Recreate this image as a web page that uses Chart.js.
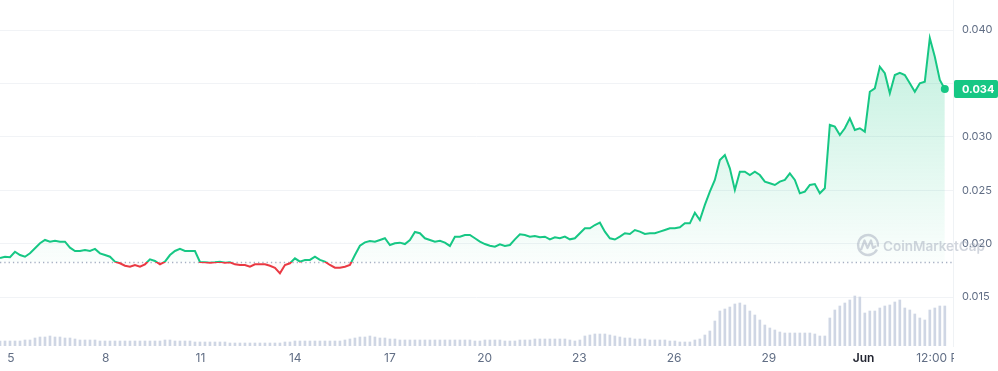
<!DOCTYPE html>
<html>
<head>
<meta charset="utf-8">
<script src="https://cdn.jsdelivr.net/npm/chart.js@4.4.1/dist/chart.umd.min.js"></script>
<style>
  html, body { margin: 0; padding: 0; background: #fff; }
</style>
</head>
<body>
<canvas id="priceChart" width="998" height="371"></canvas>
<script>
// Price (USD) sampled roughly every 3.8 hours, May 4 -> Jun 3
const priceValues = [
  0.01865, 0.01877, 0.01872, 0.01924, 0.01893, 0.01877, 0.01909, 0.01956, 0.02003, 0.02034,
  0.02018, 0.02027, 0.02018, 0.02018, 0.01962, 0.01931, 0.01931, 0.01940, 0.01931, 0.01950,
  0.01909, 0.01893, 0.01877, 0.01831, 0.01816, 0.01793, 0.01784, 0.01800, 0.01784, 0.01806,
  0.01853, 0.01837, 0.01806, 0.01831, 0.01893, 0.01931, 0.01950, 0.01931, 0.01931, 0.01931,
  0.01828, 0.01825, 0.01821, 0.01825, 0.01831, 0.01821, 0.01825, 0.01806, 0.01800, 0.01800,
  0.01784, 0.01806, 0.01806, 0.01806, 0.01793, 0.01774, 0.01722, 0.01800, 0.01816, 0.01862,
  0.01831, 0.01847, 0.01847, 0.01877, 0.01847, 0.01831, 0.01800, 0.01774, 0.01774, 0.01784,
  0.01800, 0.01893, 0.01980, 0.02012, 0.02024, 0.02018, 0.02034, 0.02050, 0.01987, 0.02003,
  0.02009, 0.01996, 0.02034, 0.02109, 0.02097, 0.02050, 0.02034, 0.02018, 0.02027, 0.02009,
  0.01978, 0.02065, 0.02065, 0.02081, 0.02081, 0.02050, 0.02018, 0.01996, 0.01980, 0.01971,
  0.01994, 0.01978, 0.01987, 0.02040, 0.02087, 0.02081, 0.02065, 0.02071, 0.02059, 0.02065,
  0.02040, 0.02059, 0.02050, 0.02065, 0.02040, 0.02050, 0.02097, 0.02143, 0.02143, 0.02174,
  0.02196, 0.02112, 0.02050, 0.02038, 0.02065, 0.02097, 0.02090, 0.02127, 0.02112, 0.02090,
  0.02097, 0.02097, 0.02112, 0.02127, 0.02143, 0.02143, 0.02153, 0.02190, 0.02190, 0.02289,
  0.02221, 0.02362, 0.02486, 0.02596, 0.02783, 0.02830, 0.02705, 0.02502, 0.02673, 0.02673,
  0.02642, 0.02673, 0.02642, 0.02580, 0.02565, 0.02549, 0.02580, 0.02596, 0.02658, 0.02596,
  0.02471, 0.02486, 0.02549, 0.02558, 0.02471, 0.02518, 0.03111, 0.03095, 0.03017, 0.03080,
  0.03173, 0.03064, 0.03080, 0.03048, 0.03422, 0.03454, 0.03656, 0.03595, 0.03407, 0.03579,
  0.03600, 0.03579, 0.03501, 0.03422, 0.03501, 0.03516, 0.03925, 0.03750, 0.03532, 0.03448
];

// Traded volume (millions), same sampling
const volumeValues = [
  5, 5, 5, 5, 5, 6, 6, 8, 9, 9,
  10, 9, 9, 8, 8, 7, 6, 6, 6, 6,
  5, 5, 5, 5, 5, 5, 5, 5, 5, 5,
  5, 5, 5, 6, 6, 5, 5, 5, 5, 4,
  4, 4, 4, 4, 4, 4, 3, 3, 3, 3,
  3, 3, 3, 3, 3, 3, 3, 4, 4, 5,
  5, 5, 5, 5, 5, 5, 5, 5, 5, 6,
  7, 8, 9, 9, 10, 9, 8, 8, 7, 7,
  6, 6, 6, 6, 6, 6, 6, 6, 6, 6,
  6, 6, 6, 6, 6, 5, 5, 6, 6, 6,
  6, 5, 5, 5, 6, 6, 6, 7, 7, 7,
  7, 7, 7, 7, 6, 5, 6, 10, 11, 12,
  12, 12, 11, 10, 9, 8, 8, 7, 7, 7,
  6, 6, 6, 6, 5, 5, 4, 4, 4, 6,
  7, 11, 15, 25, 35, 37, 39, 42, 43, 41,
  35, 31, 26, 21, 18, 16, 14, 13, 13, 13,
  13, 13, 13, 12, 10, 10, 28, 36, 40, 43,
  46, 50, 49, 33, 35, 35, 38, 40, 41, 44,
  46, 38, 36, 32, 28, 26, 36, 38, 40, 40
];

const basePrice = 0.01828;       // opening price of the period
const firstDay = 4.652;          // day of May of the first sample
const dayStep = 0.1583;          // days between samples
const tickDays = [5, 8, 11, 14, 17, 20, 23, 26, 29, 32, 34.5];
const tickLabels = ['5', '8', '11', '14', '17', '20', '23', '26', '29', 'Jun', '12:00 PM'];
const priceTicks = [0.015, 0.020, 0.025, 0.030, 0.035, 0.040];

const green = '#16c784';
const red = '#ea3943';

const pricePoints = priceValues.map((v, i) => ({ x: firstDay + i * dayStep, y: v }));
const volumePoints = volumeValues.map((v, i) => ({ x: firstDay + i * dayStep, y: v }));
const lastIndex = priceValues.length - 1;
const lastPrice = priceValues[lastIndex];

// green above the opening price, red below
function lineColor(context) {
  const { chart } = context;
  const { ctx, chartArea, scales } = chart;
  if (!chartArea) return green;
  const r = (scales.y.getPixelForValue(basePrice) - chartArea.top) / (chartArea.bottom - chartArea.top);
  const g = ctx.createLinearGradient(0, chartArea.top, 0, chartArea.bottom);
  g.addColorStop(0, green);
  g.addColorStop(r, green);
  g.addColorStop(r, red);
  g.addColorStop(1, red);
  return g;
}

function areaColor(context) {
  const { chart } = context;
  const { ctx, chartArea, scales } = chart;
  if (!chartArea) return 'rgba(22,199,132,0.1)';
  const r = (scales.y.getPixelForValue(basePrice) - chartArea.top) / (chartArea.bottom - chartArea.top);
  const g = ctx.createLinearGradient(0, chartArea.top, 0, chartArea.bottom);
  g.addColorStop(0, 'rgba(22,199,132,0.30)');
  g.addColorStop(r, 'rgba(22,199,132,0.02)');
  g.addColorStop(r, 'rgba(234,57,67,0.02)');
  g.addColorStop(Math.min(1, r + 0.2), 'rgba(234,57,67,0.25)');
  g.addColorStop(1, 'rgba(234,57,67,0.25)');
  return g;
}

// drop the automatic padding Chart.js adds for overhanging labels
function noPadding(s) {
  s.paddingLeft = 0;
  s.paddingRight = 0;
  s.paddingTop = 0;
  s.paddingBottom = 0;
}

const extras = {
  id: 'extras',
  beforeDatasetsDraw(chart) {
    // dotted line at the opening price
    const { ctx, chartArea, scales } = chart;
    const y = Math.round(scales.y.getPixelForValue(basePrice)) + 0.5;
    ctx.save();
    ctx.strokeStyle = '#a6b0c3';
    ctx.lineWidth = 1.3;
    ctx.setLineDash([1.3, 3]);
    ctx.beginPath();
    ctx.moveTo(chartArea.left, y);
    ctx.lineTo(chartArea.right, y);
    ctx.stroke();
    ctx.restore();
  },
  afterDraw(chart) {
    const { ctx, chartArea, scales, width, height } = chart;
    ctx.save();
    // the last time label is cut by the price axis
    ctx.fillStyle = '#fff';
    ctx.fillRect(chartArea.right + 1, chartArea.bottom + 1, width - chartArea.right, height - chartArea.bottom);

    // watermark
    ctx.globalAlpha = 0.5;
    ctx.strokeStyle = '#a3acbb';
    ctx.fillStyle = '#a3acbb';
    ctx.lineWidth = 2.4;
    ctx.beginPath();
    ctx.arc(868, 245, 10, 0.15 * Math.PI, 2.05 * Math.PI);
    ctx.stroke();
    ctx.lineWidth = 2.2;
    ctx.lineJoin = 'round';
    ctx.beginPath();
    ctx.moveTo(861, 250);
    ctx.lineTo(864.5, 240.5);
    ctx.lineTo(867.5, 248);
    ctx.lineTo(871, 240.5);
    ctx.lineTo(873, 248);
    ctx.lineTo(876, 246);
    ctx.stroke();
    ctx.font = '600 16px Inter';
    const w = ctx.measureText('CoinMarketCap').width;
    const size = Math.floor(16 * 102 / w * 10) / 10;
    ctx.font = '600 ' + size + 'px Inter';
    ctx.textBaseline = 'alphabetic';
    ctx.textAlign = 'left';
    ctx.fillText('CoinMarketCap', 883, 251);
    ctx.globalAlpha = 1;

    // current price tag
    const py = scales.y.getPixelForValue(lastPrice);
    ctx.fillStyle = green;
    ctx.beginPath();
    ctx.roundRect(chartArea.right + 1, py - 9, 44, 18, 2);
    ctx.fill();
    ctx.fillStyle = '#fff';
    ctx.font = '700 11px Inter';
    ctx.textBaseline = 'middle';
    ctx.fillText(lastPrice.toFixed(3), chartArea.right + 9, py + 0.5);
    ctx.restore();
  }
};

Chart.defaults.font.family = 'Inter';

new Chart(document.getElementById('priceChart'), {
  data: {
    datasets: [
      {
        type: 'line',
        data: pricePoints,
        yAxisID: 'y',
        borderColor: lineColor,
        backgroundColor: areaColor,
        borderWidth: 2,
        tension: 0,
        fill: { target: { value: basePrice } },
        pointRadius: (c) => (c.dataIndex === lastIndex ? 4 : 0),
        pointBackgroundColor: green,
        pointBorderWidth: 0,
        order: 0
      },
      {
        type: 'bar',
        data: volumePoints,
        yAxisID: 'vol',
        backgroundColor: '#cfd6e4',
        barThickness: 2,
        order: 1
      }
    ]
  },
  options: {
    responsive: false,
    animation: false,
    events: [],
    layout: { padding: 0, autoPadding: false },
    plugins: { legend: { display: false }, tooltip: { enabled: false } },
    scales: {
      x: {
        type: 'linear',
        min: 4.652,
        max: 34.83,
        offset: false,
        grid: { display: false, drawTicks: false, offset: false },
        border: { display: false },
        afterBuildTicks: (s) => { s.ticks = tickDays.map((v) => ({ value: v })); },
        afterFit: (s) => { s.height = 25; noPadding(s); },
        ticks: {
          autoSkip: false,
          maxRotation: 0,
          padding: 5,
          color: (c) => (tickLabels[c.index] === 'Jun' ? '#222531' : '#616e85'),
          font: (c) => ({ size: 12, weight: tickLabels[c.index] === 'Jun' ? '600' : '400' }),
          callback: (v, i) => tickLabels[i]
        }
      },
      y: {
        position: 'right',
        min: 0.010413,
        max: 0.042809,
        grid: { color: '#f1f3f6', drawTicks: false },
        border: { display: true, color: '#eff2f5' },
        afterBuildTicks: (s) => { s.ticks = priceTicks.map((v) => ({ value: v })); },
        afterFit: (s) => { s.width = 45; noPadding(s); },
        ticks: {
          padding: 9,
          color: '#616e85',
          font: { size: 11 },
          // the price tag hides the tick next to it
          callback: (v) => (Math.abs(v - lastPrice) < 0.0012 ? '' : v.toFixed(3))
        }
      },
      vol: {
        display: false,
        min: 0,
        max: 346
      }
    }
  },
  plugins: [extras]
});
</script>
</body>
</html>
